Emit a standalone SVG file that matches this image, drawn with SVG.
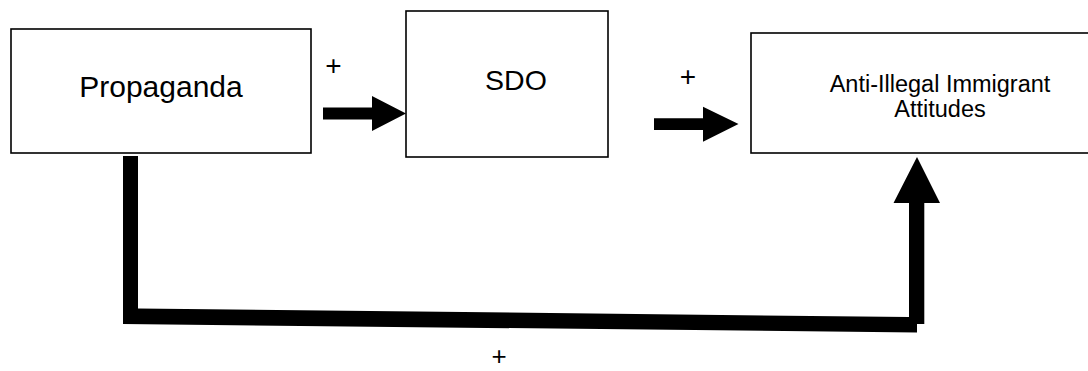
<svg xmlns="http://www.w3.org/2000/svg" width="1088" height="371" viewBox="0 0 1088 371">
<style>
.box{fill:#fff;stroke:#000;stroke-width:1.6}
.lbl{font-family:"Liberation Sans",Arial,sans-serif;fill:#000;text-anchor:middle}
.arr{fill:#000;stroke:none}
</style>
<rect x="0" y="0" width="1088" height="371" fill="#fff"/>
<g id="node-propaganda">
<rect class="box" x="11" y="29" width="300" height="124"/>
<text class="lbl" x="161" y="96.7" font-size="30">Propaganda</text>
</g>
<g id="node-sdo">
<rect class="box" x="406" y="11" width="202" height="146" stroke-width="2"/>
<text class="lbl" x="516" y="90" font-size="28.5">SDO</text>
</g>
<g id="node-attitudes">
<rect class="box" x="751" y="33" width="345" height="120"/>
<text class="lbl" x="940" y="91.7" font-size="23.5">Anti-Illegal Immigrant</text>
<text class="lbl" x="940" y="116.7" font-size="23.5">Attitudes</text>
</g>
<g id="connectors">
<polygon class="arr" points="323,107.5 372,107.5 372,96 406,113.5 372,131 372,119.5 323,119.5"/>
<polygon class="arr" points="654,118.3 703,118.3 703,106.7 738.5,124 703,141.7 703,130 654,130"/>
<polygon class="arr" points="123,156 138,156 138,308.5 909,317 909,203 893.5,203 917,157 940,203 924.3,203 924.3,324 917,324 917,332.5 123,324"/>
<text class="lbl" x="333.5" y="75.4" font-size="28">+</text>
<text class="lbl" x="688" y="86.4" font-size="28">+</text>
<text class="lbl" x="499" y="365" font-size="26">+</text>
</g>
</svg>
